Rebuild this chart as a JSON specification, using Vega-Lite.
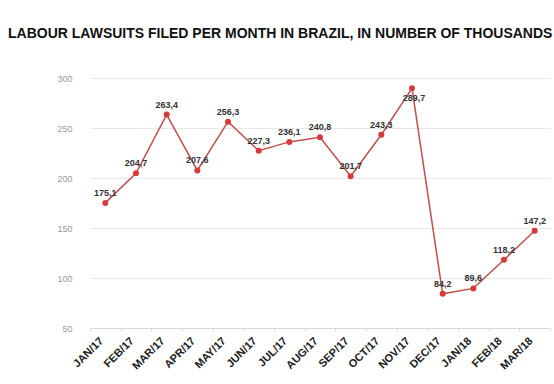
{
  "$schema": "https://vega.github.io/schema/vega-lite/v6.json",
  "width": 460,
  "height": 250,
  "autosize": {"type": "none"},
  "padding": {"left": 90, "top": 78, "right": 4, "bottom": 56},
  "background": "white",
  "config": {
    "view": {"stroke": null},
    "font": "Liberation Sans",
    "locale": {"number": {"decimal": ",", "thousands": ".", "grouping": [3], "currency": ["R$", ""]}}
  },
  "title": {
    "text": "LABOUR LAWSUITS FILED PER MONTH IN BRAZIL, IN NUMBER OF THOUSANDS",
    "font": "Liberation Sans",
    "fontSize": 14,
    "fontWeight": "bold",
    "color": "#111111",
    "anchor": "start",
    "frame": "group",
    "baseline": "alphabetic",
    "dx": -82,
    "offset": 22
  },
  "data": {
    "values": [
      {"month": "JAN/17", "value": 175.1},
      {"month": "FEB/17", "value": 204.7},
      {"month": "MAR/17", "value": 263.4},
      {"month": "APR/17", "value": 207.6},
      {"month": "MAY/17", "value": 256.3},
      {"month": "JUN/17", "value": 227.3},
      {"month": "JUL/17", "value": 236.1},
      {"month": "AUG/17", "value": 240.8},
      {"month": "SEP/17", "value": 201.7},
      {"month": "OCT/17", "value": 243.3},
      {"month": "NOV/17", "value": 289.7},
      {"month": "DEC/17", "value": 84.2},
      {"month": "JAN/18", "value": 89.6},
      {"month": "FEB/18", "value": 118.2},
      {"month": "MAR/18", "value": 147.2}
    ]
  },
  "encoding": {
    "x": {
      "field": "month",
      "type": "ordinal",
      "sort": null,
      "scale": {"type": "band", "paddingInner": 0, "paddingOuter": 0},
      "axis": {
        "title": null,
        "labelAngle": -45,
        "labelAlign": "right",
        "labelBaseline": "middle",
        "labelFontSize": 11,
        "labelFontWeight": "bold",
        "labelColor": "#222222",
        "labelPadding": 8,
        "labelOffset": -4,
        "tickBand": "extent",
        "tickColor": "#d9d9d9",
        "tickSize": 3,
        "domainColor": "#d9d9d9",
        "grid": false
      }
    },
    "y": {
      "field": "value",
      "type": "quantitative",
      "scale": {"domain": [50, 300], "nice": false, "zero": false},
      "axis": {
        "title": null,
        "values": [50, 100, 150, 200, 250, 300],
        "labelColor": "#999999",
        "labelFontSize": 9,
        "labelPadding": 18,
        "ticks": false,
        "domain": false,
        "gridColor": "#e8e8e8"
      }
    }
  },
  "layer": [
    {"mark": {"type": "line", "color": "#c0504d", "strokeWidth": 1.5}},
    {"mark": {"type": "circle", "color": "#d63a3a", "size": 36, "opacity": 1}},
    {
      "transform": [{"filter": "datum.value < 280"}],
      "mark": {"type": "text", "dy": -10, "fontSize": 9, "fontWeight": "bold", "color": "#333333"},
      "encoding": {"text": {"field": "value", "type": "quantitative", "format": ".1f"}}
    },
    {
      "transform": [{"filter": "datum.value >= 280"}],
      "mark": {"type": "text", "dy": 10, "dx": 2, "fontSize": 9, "fontWeight": "bold", "color": "#333333"},
      "encoding": {"text": {"field": "value", "type": "quantitative", "format": ".1f"}}
    }
  ]
}
